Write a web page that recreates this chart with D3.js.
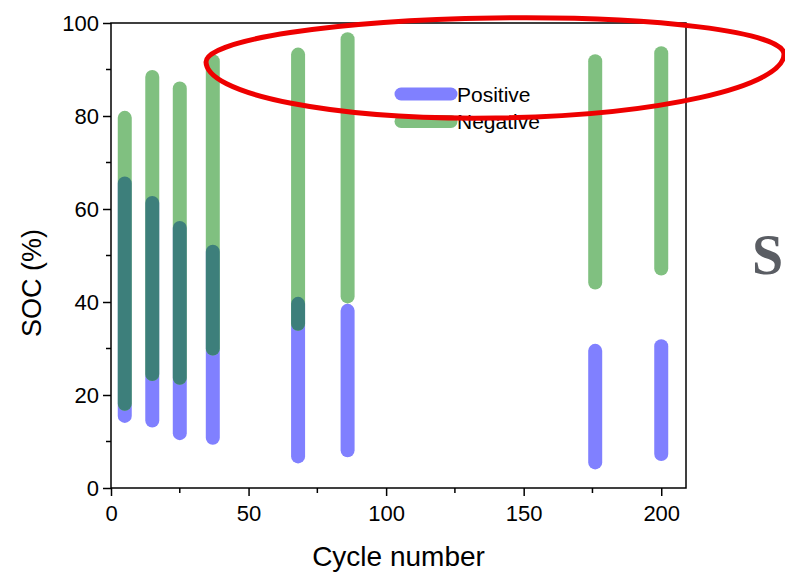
<!DOCTYPE html>
<html>
<head>
<meta charset="utf-8">
<script src="https://cdn.jsdelivr.net/npm/d3@7"></script>
<style>
  body { margin: 0; background: #fff; }
  svg { display: block; }
</style>
</head>
<body>
<div id="chart"></div>
<script>
// cycle numbers and SOC windows (%) of each electrode
const cycles = [5, 15, 25, 37, 68, 86, 176, 200];
const posTop = [65.5, 61.3, 55.9, 50.8, 39.6, 38.1, 29.5, 30.5];
const posBottom = [15.5, 14.5, 11.8, 10.8, 6.8, 8.1, 5.5, 7.3];
const negTop = [79.6, 88.4, 85.9, 91.8, 93.2, 96.5, 91.8, 93.5];
const negBottom = [18.1, 24.5, 23.7, 30.0, 35.3, 41.2, 44.2, 47.2];

const xTicks = [0, 50, 100, 150, 200];
const yTicks = [0, 20, 40, 60, 80, 100];
const seriesNames = ["Positive", "Negative"];

const W = 785, H = 574;
const margin = {top: 23, right: 99, bottom: 86, left: 111};
const width = W - margin.left - margin.right,
    height = H - margin.top - margin.bottom;

const blue = "#8080ff", green = "#80c080", teal = "#3d7f7b";
const barW = 14;

let svg = d3.select("#chart")
    .append("svg")
    .attr("width", W)
    .attr("height", H);

let g = svg.append("g")
    .attr("transform", "translate(" + margin.left + "," + margin.top + ")");

let x = d3.scaleLinear().domain([0, 209]).range([0, width]);
let y = d3.scaleLinear().domain([0, 100]).range([height, 0]);

function capsule(sel, xs, tops, bottoms) {
    return sel
        .attr("x", (d, i) => x(xs[i]) - barW / 2)
        .attr("y", (d, i) => y(tops[i]) - barW / 2)
        .attr("width", barW)
        .attr("height", (d, i) => y(bottoms[i]) - y(tops[i]) + barW)
        .attr("rx", barW / 2)
        .attr("ry", barW / 2);
}

// clip paths = negative capsules, used for the dark overlap
let defs = svg.append("defs");
cycles.forEach(function (c, i) {
    capsule(defs.append("clipPath").attr("id", "neg" + i)
        .append("rect").datum(c), [c], [negTop[i]], [negBottom[i]]);
});

capsule(g.append("g").selectAll("rect").data(cycles).enter().append("rect"),
    cycles, posTop, posBottom)
    .attr("fill", blue);

capsule(g.append("g").selectAll("rect").data(cycles).enter().append("rect"),
    cycles, negTop, negBottom)
    .attr("fill", green);

let overlap = g.append("g");
cycles.forEach(function (c, i) {
    capsule(overlap.append("rect").datum(c), [c], [posTop[i]], [posBottom[i]])
        .attr("fill", teal)
        .attr("clip-path", "url(#neg" + i + ")");
});

// frame
g.append("rect")
    .attr("width", width)
    .attr("height", height)
    .attr("fill", "none")
    .attr("stroke", "#000")
    .attr("stroke-width", 1.5);

const font = "'Liberation Sans', Arial, sans-serif";

// x axis
let xAxis = g.append("g").attr("transform", "translate(0," + height + ")");
xAxis.selectAll("line.minor")
    .data(d3.range(25, 209, 50))
    .enter().append("line")
    .attr("x1", d => x(d)).attr("x2", d => x(d))
    .attr("y1", 0).attr("y2", 5)
    .attr("stroke", "#000").attr("stroke-width", 1.5);
xAxis.call(d3.axisBottom(x).tickValues(xTicks).tickSize(8).tickPadding(9))
    .call(a => a.select(".domain").remove())
    .call(a => a.selectAll("line").attr("stroke-width", 1.5))
    .selectAll("text")
    .attr("font-family", font)
    .attr("font-size", "22px")
    .attr("fill", "#000");

// y axis
let yAxis = g.append("g");
yAxis.selectAll("line.minor")
    .data(d3.range(10, 100, 20))
    .enter().append("line")
    .attr("y1", d => y(d)).attr("y2", d => y(d))
    .attr("x1", 0).attr("x2", -5)
    .attr("stroke", "#000").attr("stroke-width", 1.5);
yAxis.call(d3.axisLeft(y).tickValues(yTicks).tickSize(8).tickPadding(4))
    .call(a => a.select(".domain").remove())
    .call(a => a.selectAll("line").attr("stroke-width", 1.5))
    .selectAll("text")
    .attr("font-family", font)
    .attr("font-size", "22px")
    .attr("fill", "#000");

// axis titles
svg.append("text")
    .attr("x", margin.left + width / 2)
    .attr("y", 566)
    .attr("text-anchor", "middle")
    .attr("font-family", font)
    .attr("font-size", "28px")
    .text("Cycle number");

svg.append("text")
    .attr("transform", "translate(41," + 283 + ") rotate(-90)")
    .attr("text-anchor", "middle")
    .attr("font-family", font)
    .attr("font-size", "27px")
    .text("SOC (%)");

// legend
let legend = svg.append("g").attr("transform", "translate(401,94)");
[blue, green].forEach(function (col, i) {
    legend.append("line")
        .attr("x1", 0).attr("x2", 50)
        .attr("y1", i * 27.5).attr("y2", i * 27.5)
        .attr("stroke", col)
        .attr("stroke-width", 13)
        .attr("stroke-linecap", "round");
    legend.append("text")
        .attr("x", 56)
        .attr("y", i * 27.5 + 7.5)
        .attr("font-family", font)
        .attr("font-size", "21px")
        .text(seriesNames[i]);
});

// red hand-drawn ring: flatter on top, rounder below
const ex = 495, ey = 58, erx = 289, eTop = 40, eBot = 60;
svg.append("path")
    .attr("d", "M" + (ex - erx) + "," + ey +
        " A" + erx + "," + eTop + " 0 0 1 " + (ex + erx) + "," + ey +
        " A" + erx + "," + eBot + " 0 0 1 " + (ex - erx) + "," + ey + "Z")
    .attr("transform", "rotate(-0.8," + ex + "," + ey + ")")
    .attr("fill", "none")
    .attr("stroke", "#ee0000")
    .attr("stroke-width", 5);

// letter at the right edge
svg.append("text")
    .attr("x", 752)
    .attr("y", 274)
    .attr("font-family", "'Liberation Serif', 'Times New Roman', serif")
    .attr("font-weight", "bold")
    .attr("font-size", "56px")
    .attr("fill", "#5a5d63")
    .text("S");
</script>
</body>
</html>
